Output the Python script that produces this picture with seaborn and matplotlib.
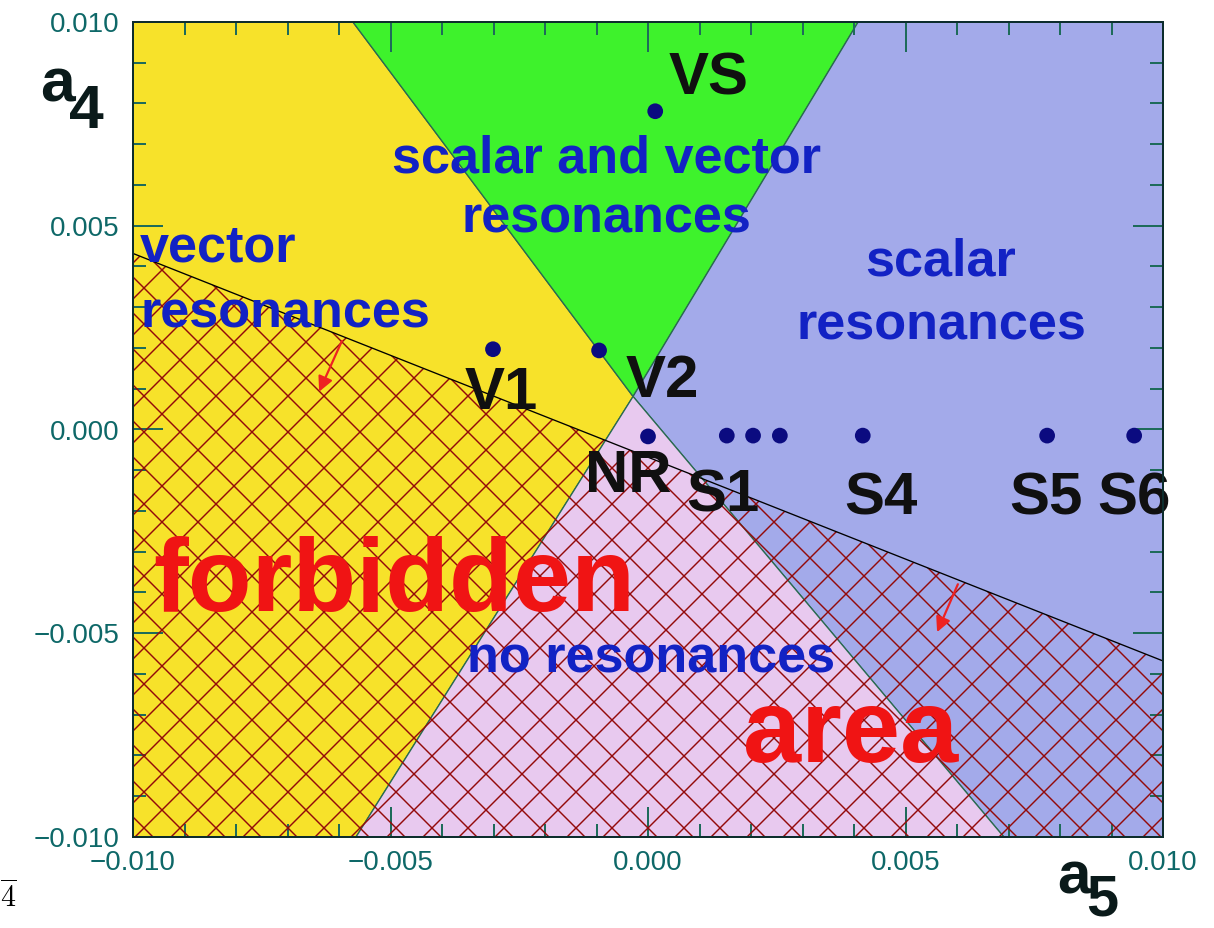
import matplotlib.pyplot as plt
import matplotlib.ticker as mticker
from matplotlib.patches import Polygon
import seaborn as sns
import numpy as np
import pandas as pd

DPI = 108
S = 160 / DPI  # sizes below were tuned in points at 160 dpi

sns.set_theme(style="ticks")
plt.rcParams['font.family'] = ['Liberation Sans', 'DejaVu Sans']
plt.rcParams['hatch.linewidth'] = 0.65 * S

# region boundaries in the (a5, a4) plane
apex = (-0.00029, 0.00081)
green_top = [-0.00573, 0.00408]    # a5 where the green wedge meets the top edge
pink_bottom = [-0.00567, 0.00691]  # a5 where the pink wedge meets the bottom edge

# boundary of the forbidden area
line_a5 = [-0.010, 0.010]
line_a4 = [0.00432, -0.00568]

# benchmark points
pt_a5 = [0.00014, -0.00301, -0.00095, 0.0, 0.00153, 0.00204, 0.00256, 0.00417, 0.00775, 0.00944]
pt_a4 = [0.00781, 0.00197, 0.00194, -0.00017, -0.00015, -0.00015, -0.00015, -0.00015, -0.00015, -0.00015]

# point labels
lab_names = ['VS', 'V1', 'V2', 'NR', 'S1', 'S4', 'S5', 'S6']
lab_a5 = [0.00118, -0.00285, 0.00027, -0.00039, 0.00146, 0.00452, 0.00773, 0.00944]
lab_a4 = [0.0086, 0.00088, 0.00118, -0.00116, -0.00162, -0.0017, -0.0017, -0.0017]

lo, hi = -0.010, 0.010
c_yellow, c_green, c_blue, c_pink = '#f7e22a', '#3ef22c', '#a3aaea', '#e8c9ef'
edge = '#2a6a50'

fig = plt.figure(figsize=((1214 + 0.01) / DPI, (928 + 0.01) / DPI), dpi=DPI)
ax = fig.add_axes([133 / 1214, 1 - 837 / 928, 1030 / 1214, 815 / 928])

regions = [
    ([(lo, lo), (lo, hi), (green_top[0], hi), apex, (pink_bottom[0], lo)], c_yellow),
    ([(green_top[0], hi), (green_top[1], hi), apex], c_green),
    ([(green_top[1], hi), (hi, hi), (hi, lo), (pink_bottom[1], lo), apex], c_blue),
    ([apex, (pink_bottom[1], lo), (pink_bottom[0], lo)], c_pink),
]
for verts, col in regions:
    ax.add_patch(Polygon(verts, closed=True, facecolor=col, edgecolor=edge, lw=0.6 * S, zorder=0.5))

# hatched forbidden area
hatch_verts = [(line_a5[0], line_a4[0]), (line_a5[1], line_a4[1]), (hi, lo), (lo, lo)]
ax.add_patch(Polygon(hatch_verts, closed=True, fill=False, edgecolor='#930a0a', lw=0,
                     hatch='x', zorder=1))
sns.lineplot(x=line_a5, y=line_a4, color='black', lw=0.6 * S, ax=ax, zorder=2)

# arrows pointing into the forbidden area
for tail, tip in [((-0.00592, 0.00224), (-0.00641, 0.00086)),
                  ((0.00604, -0.00373), (0.00559, -0.00504))]:
    ax.annotate('', xy=tip, xytext=tail,
                arrowprops=dict(arrowstyle='-|>', color='#ee2222', lw=1.0 * S,
                                mutation_scale=14 * S),
                zorder=3)

pts = pd.DataFrame({'a5': pt_a5, 'a4': pt_a4})
sns.scatterplot(data=pts, x='a5', y='a4', s=50 * S * S, color='#0b0b80', edgecolor='none',
                ax=ax, zorder=4)

for name, x, y in zip(lab_names, lab_a5, lab_a4):
    ax.text(x, y, name, fontsize=27 * S, fontweight='bold', color='#101010',
            ha='center', va='center', zorder=5)

blue = '#1222c4'
ax.text(-0.0008, 0.0059, 'scalar and vector\nresonances', fontsize=23.5 * S, fontweight='bold',
        color=blue, ha='center', va='center', linespacing=1.3, zorder=5)
ax.text(-0.00986, 0.00365, 'vector\nresonances', fontsize=23.5 * S, fontweight='bold',
        color=blue, ha='left', va='center', linespacing=1.45, zorder=5)
ax.text(0.00569, 0.00332, 'scalar\nresonances', fontsize=23.5 * S, fontweight='bold',
        color=blue, ha='center', va='center', linespacing=1.38, zorder=5)
ax.text(0.00006, -0.00563, 'no resonances', fontsize=23.5 * S, fontweight='bold',
        color=blue, ha='center', va='center', zorder=5)

ax.text(-0.00493, -0.0038, 'forbidden', fontsize=47 * S, fontweight='bold',
        color='#f01414', ha='center', va='center', zorder=5)
ax.text(0.00394, -0.0075, 'area', fontsize=47 * S, fontweight='bold',
        color='#f01414', ha='center', va='center', zorder=5)

ax.set_xlim(lo, hi)
ax.set_ylim(lo, hi)
ax.set_xlabel('')
ax.set_ylabel('')
fmt = mticker.FuncFormatter(lambda v, p: f'{v:.3f}'.replace('-', '\u2212'))
ax.xaxis.set_major_locator(mticker.MultipleLocator(0.005))
ax.yaxis.set_major_locator(mticker.MultipleLocator(0.005))
ax.xaxis.set_minor_locator(mticker.MultipleLocator(0.001))
ax.yaxis.set_minor_locator(mticker.MultipleLocator(0.001))
ax.xaxis.set_major_formatter(fmt)
ax.yaxis.set_major_formatter(fmt)
tick_col = '#1e6b5a'
ax.tick_params(which='both', direction='in', top=True, right=True, color=tick_col, width=0.9 * S)
ax.tick_params(which='major', length=13.5 * S, labelsize=12.5 * S, labelcolor='#0e6868', pad=6 * S)
ax.tick_params(which='minor', length=5.8 * S)
for sp in ax.spines.values():
    sp.set_color('#0d2d2d')
    sp.set_linewidth(0.9 * S)
    sp.set_zorder(6)

# axis names
def ftext(px, py, s, va='center', **kw):
    fig.text(px / 1214, 1 - py / 928, s, ha='center', va=va, **kw)

ftext(57, 86, 'a', fontsize=28 * S, fontweight='bold', color='#0a1a1a')
ftext(86, 112, '4', fontsize=28 * S, fontweight='bold', color='#0a1a1a')
ftext(1074, 878, 'a', fontsize=27 * S, fontweight='bold', color='#0a1a1a')
ftext(1102, 915, '5', va='baseline', fontsize=26 * S, fontweight='bold', color='#0a1a1a')
fig.text(0.0, 1 - 897 / 928, r'$\overline{4}$', fontsize=13.5 * S, math_fontfamily='cm',
         ha='left', va='center', color='black')

fig.savefig('out.png', dpi=DPI)
